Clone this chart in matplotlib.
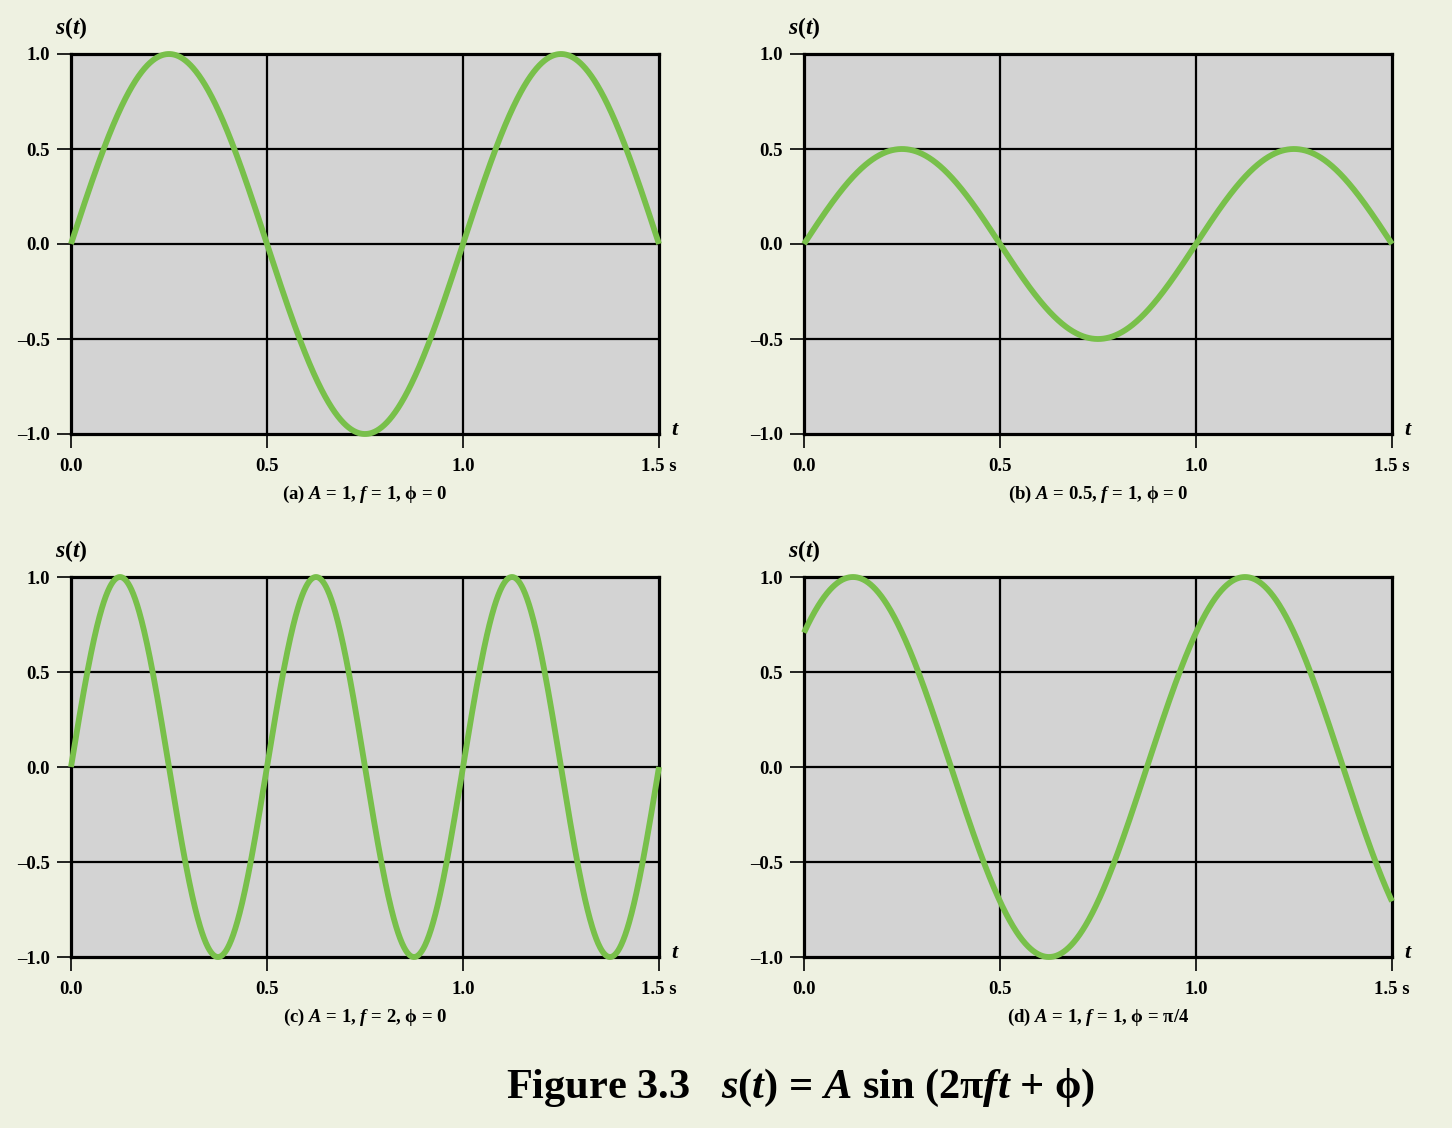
import numpy as np
import matplotlib
matplotlib.use("Agg")
import matplotlib.pyplot as plt

# ---- data ----
amplitudes = [1.0, 0.5, 1.0, 1.0]
frequencies = [1.0, 1.0, 2.0, 1.0]
phases = [0.0, 0.0, 0.0, np.pi / 4]
captions = [
    r"(a) $A$ = 1, $f$ = 1, ϕ = 0",
    r"(b) $A$ = 0.5, $f$ = 1, ϕ = 0",
    r"(c) $A$ = 1, $f$ = 2, ϕ = 0",
    r"(d) $A$ = 1, $f$ = 1, ϕ = π/4",
]
x_ticks = [0.0, 0.5, 1.0, 1.5]
x_tick_labels = ["0.0", "0.5", "1.0", "1.5 s"]
y_ticks = [-1.0, -0.5, 0.0, 0.5, 1.0]
y_tick_labels = ["–1.0", "–0.5", "0.0", "0.5", "1.0"]
t_range = (0.0, 1.5)

plt.rcParams['font.family'] = ['Liberation Serif', 'DejaVu Serif']
plt.rcParams['font.weight'] = 'bold'
plt.rcParams['mathtext.fontset'] = 'custom'
plt.rcParams['mathtext.rm'] = 'Liberation Serif:bold'
plt.rcParams['mathtext.it'] = 'Liberation Serif:italic:bold'
plt.rcParams['mathtext.bf'] = 'Liberation Serif:bold'

BG = '#eef1e1'
FACE = '#d3d3d3'
GREEN = '#78c04a'

fig = plt.figure(figsize=(14.52, 11.28), dpi=100, facecolor=BG)

W = 588 / 1452
H = 380 / 1128
lefts = [71 / 1452, 804 / 1452]
bottoms = [1 - 434 / 1128, 1 - 957 / 1128]
positions = [(lefts[0], bottoms[0]), (lefts[1], bottoms[0]),
             (lefts[0], bottoms[1]), (lefts[1], bottoms[1])]

t = np.linspace(t_range[0], t_range[1], 1200)

for i, (l, b) in enumerate(positions):
    ax = fig.add_axes([l, b, W, H])
    ax.set_facecolor(FACE)
    s = amplitudes[i] * np.sin(2 * np.pi * frequencies[i] * t + phases[i])
    ax.plot(t, s, color=GREEN, lw=4.2, zorder=5, clip_on=False,
            solid_capstyle='butt')
    ax.set_xlim(*t_range)
    ax.set_ylim(-1.0, 1.0)
    ax.set_xticks(x_ticks)
    ax.set_xticklabels(x_tick_labels)
    ax.set_yticks(y_ticks)
    ax.set_yticklabels(y_tick_labels)
    for yv in [-0.5, 0.0, 0.5]:
        ax.axhline(yv, color='black', lw=1.6, zorder=2)
    for xv in [0.5, 1.0]:
        ax.axvline(xv, color='black', lw=1.6, zorder=2)
    for sp in ax.spines.values():
        sp.set_linewidth(2.3)
        sp.set_color('black')
        sp.set_zorder(4)
    ax.tick_params(axis='both', direction='out', length=10, width=1.2,
                   labelsize=13.5, colors='black')
    ax.tick_params(axis='x', pad=7)
    ax.tick_params(axis='y', pad=5)
    for lab in ax.get_xticklabels() + ax.get_yticklabels():
        lab.set_fontweight('bold')
    ax.text(-0.0, 1.035, r"$s(t)$", transform=ax.transAxes, fontsize=17,
            ha='center', va='bottom')
    ax.text(1.027, 0.01, r"$t$", transform=ax.transAxes, fontsize=16,
            ha='center', va='center')
    ax.text(0.5, -0.158, captions[i], transform=ax.transAxes, fontsize=13.5,
            ha='center', va='center')

fig.text(800 / 1452, 1 - 1088 / 1128,
         r"Figure 3.3   $s(t)$ = $A$ sin (2π$ft$ + ϕ)",
         fontsize=30.5, ha='center', va='center')

fig.savefig("out.png", dpi=100, facecolor=BG)
